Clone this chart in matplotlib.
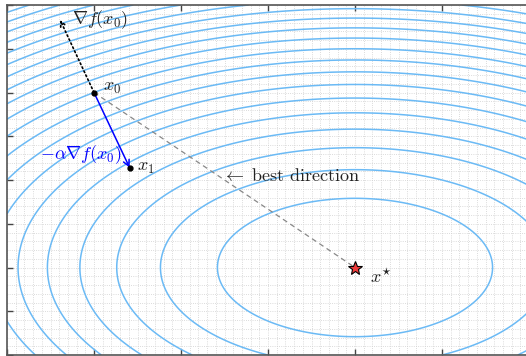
import numpy as np
import matplotlib
matplotlib.use("Agg")
import matplotlib.pyplot as plt
from matplotlib.ticker import MultipleLocator

plt.rcParams['mathtext.fontset'] = 'cm'

# ---- data ----
x_star = [4.0, 1.0]          # minimiser
x0 = [1.0, 3.0]              # starting point
x1 = [1.41, 2.14]            # after one gradient step
grad_tip = [0.61, 3.83]      # tip of gradient arrow
quad_coef = [0.4, 1.6]       # f = cx*(x-x*)^2 + cy*(y-y*)^2
levels = list(range(1, 25))
x_lim = [0, 6]
y_lim = [0, 4]

W, H = 526, 356
fig = plt.figure(figsize=(W / 100, H / 100), dpi=100)
ax = fig.add_axes([7 / W, 1 / H, 522 / W, 350 / H])

xx = np.linspace(x_lim[0], x_lim[1], 600)
yy = np.linspace(y_lim[0], y_lim[1], 400)
X, Y = np.meshgrid(xx, yy)
Z = quad_coef[0] * (X - x_star[0]) ** 2 + quad_coef[1] * (Y - x_star[1]) ** 2
ax.contour(X, Y, Z, levels=levels, colors='#6bbaf5', linewidths=1.1, zorder=2)

# best direction (dashed)
ax.plot([x0[0], x_star[0]], [x0[1], x_star[1]], ls=(0, (4, 3)), color='#888888', lw=0.9, zorder=3)

# gradient arrow (dotted)
ax.annotate('', xy=grad_tip, xytext=x0,
            arrowprops=dict(arrowstyle='->', color='black', lw=1.2, ls=':',
                            shrinkA=0, shrinkB=0, mutation_scale=9), zorder=4)
# step arrow (blue)
ax.annotate('', xy=x1, xytext=x0,
            arrowprops=dict(arrowstyle='->', color='#0000ff', lw=1.1,
                            shrinkA=0, shrinkB=0, mutation_scale=11), zorder=4)

ax.plot([x0[0], x1[0]], [x0[1], x1[1]], 'o', color='black', ms=3.5, zorder=5)
ax.plot([x_star[0]], [x_star[1]], marker='*', color='#ee3b3b', mec='black', mew=0.8, ms=10, zorder=5)

fs = 13
ax.text(0.75, 3.83, r'$\nabla f(x_0)$', fontsize=fs, color='#222222', va='center', ha='left')
ax.text(1.10, 3.06, r'$x_0$', fontsize=fs, color='#222222', va='center', ha='left')
ax.text(1.32, 2.29, r'$-\alpha\nabla f(x_0)$', fontsize=fs, color='#0000ff', va='center', ha='right')
ax.text(1.49, 2.15, r'$x_1$', fontsize=fs, color='#222222', va='center', ha='left')
ax.text(2.47, 2.05, r'$\leftarrow\ \mathrm{best\ direction}$', fontsize=fs, color='#222222', va='center', ha='left')
ax.text(4.17, 0.88, r'$x^{\star}$', fontsize=fs, color='#222222', va='center', ha='left')

ax.set_xlim(x_lim)
ax.set_ylim(y_lim)
ax.xaxis.set_major_locator(MultipleLocator(1))
ax.yaxis.set_major_locator(MultipleLocator(0.5))
ax.xaxis.set_minor_locator(MultipleLocator(0.1))
ax.yaxis.set_minor_locator(MultipleLocator(0.1))
ax.grid(which='both', ls=':', color='#cfcfcf', lw=0.6, zorder=0)
ax.set_axisbelow(True)
ax.tick_params(which='major', direction='in', length=4, width=1, color='#444444',
               top=True, right=False, labelbottom=False, labelleft=False)
ax.tick_params(which='minor', length=0)
for s in ax.spines.values():
    s.set_color('#555555')
    s.set_linewidth(1.2)
ax.spines['right'].set_visible(False)

fig.savefig('out.png', dpi=100)
